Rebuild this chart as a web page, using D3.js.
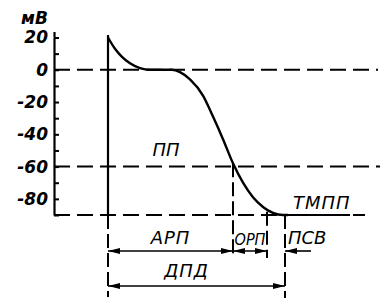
<!DOCTYPE html>
<html>
<head>
<meta charset="utf-8">
<script src="https://cdn.jsdelivr.net/npm/d3@7"></script>
<style>
  body { margin: 0; background: #fff; }
  text { font-family: "DejaVu Sans", sans-serif; font-style: italic; fill: #000; }
</style>
</head>
<body>
<div id="chart"></div>
<script>
// потенциал действия: время (усл. ед.) и мембранный потенциал, мВ
const timeUnits = [0, 7, 14, 22, 32, 42, 64, 72, 82, 95, 105, 115, 125, 135, 145, 155, 165, 175, 180];
const potentialMv = [20, 13, 8, 4, 1, 0, 0, -1.5, -6, -16, -29, -43, -58, -70, -79, -85, -88.7, -90, -90];

const yTicks = [20, 10, 0, -10, -20, -30, -40, -50, -60, -70, -80, -90];
const yLabels = [20, 0, -20, -40, -60, -80];
const levelLines = [0, -60, -90];          // 0, ПП, ТМПП
const phaseBounds = [0, 125, 159, 177];     // начало, конец АРП, конец ОРП, конец ДПД
const phaseNames = ["АРП", "ОРП", "ПСВ"];

const width = 386, height = 304;
const axisX = 54;

const svg = d3.select("#chart").append("svg")
    .attr("width", width)
    .attr("height", height);

const defs = svg.append("defs");
defs.append("marker")
    .attr("id", "arr")
    .attr("viewBox", "0 0 12 8")
    .attr("refX", 12).attr("refY", 4)
    .attr("markerWidth", 12).attr("markerHeight", 8)
    .attr("markerUnits", "userSpaceOnUse")
    .attr("orient", "auto-start-reverse")
    .append("path")
    .attr("d", "M0,1 L12,4 L0,7 Z")
    .attr("fill", "#000");

const x = d3.scaleLinear().domain([0, 280]).range([108, 388]);
const y = d3.scaleLinear().domain([-90, 20]).range([215, 37.5]);

// ось Y
const axis = svg.append("g")
    .attr("transform", `translate(${axisX},0)`)
    .call(d3.axisLeft(y)
        .tickValues(yTicks)
        .tickSizeInner(-5)
        .tickSizeOuter(0)
        .tickPadding(6)
        .tickFormat(d => yLabels.includes(d) ? String(d) : ""));
axis.select(".domain").attr("stroke-width", 2.2);
axis.selectAll(".tick line").attr("stroke-width", 2);
axis.selectAll(".tick text")
    .attr("font-size", 17)
    .attr("font-weight", "bold")
    .attr("font-family", "DejaVu Sans")
    .style("font-style", "italic");
svg.append("line")
    .attr("x1", axisX + 0.5).attr("x2", axisX + 0.5)
    .attr("y1", 32).attr("y2", y(20))
    .attr("stroke", "#000").attr("stroke-width", 2.2);

svg.append("text")
    .attr("x", 21).attr("y", 24)
    .attr("font-size", 17)
    .attr("font-weight", "bold")
    .text("мВ");

// пунктирные уровни
const levelEnd = [378, 380, 365];
svg.append("g").selectAll("line")
    .data(levelLines)
    .join("line")
    .attr("x1", axisX).attr("x2", (d, i) => levelEnd[i])
    .attr("y1", d => y(d)).attr("y2", d => y(d))
    .attr("stroke", "#000")
    .attr("stroke-width", 2)
    .attr("stroke-dasharray", "16,7");

// сплошной отрезок под ТМПП
svg.append("line")
    .attr("x1", x(172)).attr("x2", 350)
    .attr("y1", y(-90)).attr("y2", y(-90))
    .attr("stroke", "#000").attr("stroke-width", 2);

// вертикальный фронт
svg.append("line")
    .attr("x1", x(0)).attr("x2", x(0))
    .attr("y1", 35).attr("y2", y(-90))
    .attr("stroke", "#000").attr("stroke-width", 2.2);

// кривая потенциала
const pts = timeUnits.map((t, i) => [t, potentialMv[i]]);
const line = d3.line()
    .x(d => x(d[0]))
    .y(d => y(d[1]))
    .curve(d3.curveMonotoneX);
svg.append("path")
    .datum(pts)
    .attr("d", line)
    .attr("fill", "none")
    .attr("stroke", "#000")
    .attr("stroke-width", 2.4);

// вертикальные пунктиры фаз
const vLines = [
    { t: phaseBounds[0], y1: y(-90), y2: 297 },
    { t: phaseBounds[1], y1: y(-58), y2: 258 },
    { t: phaseBounds[2], y1: y(-88), y2: 258 },
    { t: phaseBounds[3], y1: y(-90), y2: 298 }
];
svg.append("g").selectAll("line")
    .data(vLines)
    .join("line")
    .attr("x1", d => x(d.t)).attr("x2", d => x(d.t))
    .attr("y1", d => d.y1).attr("y2", d => d.y2)
    .attr("stroke", "#000")
    .attr("stroke-width", 2)
    .attr("stroke-dasharray", "14,5");

// стрелки
const arrowY = 251, dpdY = 286;
const arrows = [
    { a: x(phaseBounds[0]), b: x(phaseBounds[1]), y: arrowY, both: true },
    { a: x(phaseBounds[1]), b: x(phaseBounds[2]), y: arrowY, both: true },
    { a: x(phaseBounds[3]), b: 311, y: arrowY, both: false },
    { a: x(phaseBounds[0]), b: x(phaseBounds[3]), y: dpdY, both: true }
];
svg.append("g").selectAll("line")
    .data(arrows)
    .join("line")
    .attr("x1", d => d.a).attr("x2", d => d.b)
    .attr("y1", d => d.y).attr("y2", d => d.y)
    .attr("stroke", "#000")
    .attr("stroke-width", 1.6)
    .attr("marker-start", "url(#arr)")
    .attr("marker-end", d => d.both ? "url(#arr)" : null);

// подписи фаз
svg.append("text")
    .attr("x", (x(phaseBounds[0]) + x(phaseBounds[1])) / 2)
    .attr("y", 244)
    .attr("text-anchor", "middle")
    .attr("font-size", 18)
    .attr("letter-spacing", 1)
    .text(phaseNames[0]);
svg.append("text")
    .attr("x", (x(phaseBounds[1]) + x(phaseBounds[2])) / 2)
    .attr("y", 245)
    .attr("text-anchor", "middle")
    .attr("font-size", 16)
    .attr("textLength", 31)
    .attr("lengthAdjust", "spacingAndGlyphs")
    .text(phaseNames[1]);
svg.append("text")
    .attr("x", x(phaseBounds[3]) + 3)
    .attr("y", 244)
    .attr("font-size", 18)
    .text(phaseNames[2]);
svg.append("text")
    .attr("x", (x(phaseBounds[0]) + x(phaseBounds[3])) / 2 - 10)
    .attr("y", 277)
    .attr("text-anchor", "middle")
    .attr("font-size", 18)
    .attr("letter-spacing", 1)
    .text("ДПД");

svg.append("text")
    .attr("x", 166).attr("y", y(-60) - 11)
    .attr("text-anchor", "middle")
    .attr("font-size", 18)
    .text("ПП");
svg.append("text")
    .attr("x", 293).attr("y", y(-90) - 6)
    .attr("font-size", 18)
    .attr("letter-spacing", 1)
    .text("ТМПП");
</script>
</body>
</html>
